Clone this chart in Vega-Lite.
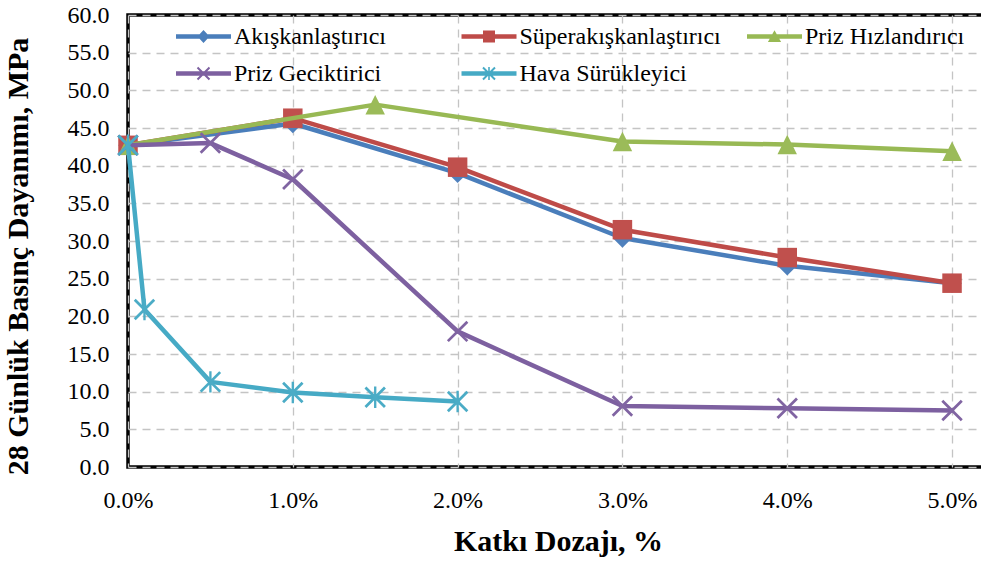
{
  "$schema": "https://vega.github.io/schema/vega-lite/v6.json",
  "width": 857,
  "height": 452,
  "autosize": {"type": "none"},
  "padding": {"left": 128, "top": 15, "right": 0, "bottom": 96},
  "background": "white",
  "config": {
    "view": {"stroke": "#000000", "strokeWidth": 3.5},
    "font": "Liberation Serif"
  },
  "data": {
    "values": [
      {"s": "Akışkanlaştırıcı", "x": 0, "y": 42.7},
      {"s": "Akışkanlaştırıcı", "x": 0.01, "y": 45.6},
      {"s": "Akışkanlaştırıcı", "x": 0.02, "y": 39.0},
      {"s": "Akışkanlaştırıcı", "x": 0.03, "y": 30.4},
      {"s": "Akışkanlaştırıcı", "x": 0.04, "y": 26.7},
      {"s": "Akışkanlaştırıcı", "x": 0.05, "y": 24.4},
      {"s": "Süperakışkanlaştırıcı", "x": 0, "y": 42.7},
      {"s": "Süperakışkanlaştırıcı", "x": 0.01, "y": 46.3},
      {"s": "Süperakışkanlaştırıcı", "x": 0.02, "y": 39.8},
      {"s": "Süperakışkanlaştırıcı", "x": 0.03, "y": 31.5},
      {"s": "Süperakışkanlaştırıcı", "x": 0.04, "y": 27.8},
      {"s": "Süperakışkanlaştırıcı", "x": 0.05, "y": 24.4},
      {"s": "Priz Hızlandırıcı", "x": 0, "y": 42.7},
      {"s": "Priz Hızlandırıcı", "x": 0.015, "y": 48.1},
      {"s": "Priz Hızlandırıcı", "x": 0.03, "y": 43.2},
      {"s": "Priz Hızlandırıcı", "x": 0.04, "y": 42.8},
      {"s": "Priz Hızlandırıcı", "x": 0.05, "y": 41.9},
      {"s": "Priz Geciktirici", "x": 0, "y": 42.7},
      {"s": "Priz Geciktirici", "x": 0.005, "y": 43.0},
      {"s": "Priz Geciktirici", "x": 0.01, "y": 38.2},
      {"s": "Priz Geciktirici", "x": 0.02, "y": 18.0},
      {"s": "Priz Geciktirici", "x": 0.03, "y": 8.1},
      {"s": "Priz Geciktirici", "x": 0.04, "y": 7.8},
      {"s": "Priz Geciktirici", "x": 0.05, "y": 7.5},
      {"s": "Hava Sürükleyici", "x": 0, "y": 42.7},
      {"s": "Hava Sürükleyici", "x": 0.001, "y": 20.9},
      {"s": "Hava Sürükleyici", "x": 0.005, "y": 11.3},
      {"s": "Hava Sürükleyici", "x": 0.01, "y": 9.9},
      {"s": "Hava Sürükleyici", "x": 0.015, "y": 9.25},
      {"s": "Hava Sürükleyici", "x": 0.02, "y": 8.7}
    ]
  },
  "encoding": {
    "x": {
      "field": "x",
      "type": "quantitative",
      "scale": {"domain": [0, 0.052], "nice": false, "zero": false},
      "axis": {
        "values": [0, 0.01, 0.02, 0.03, 0.04, 0.05],
        "format": ".1%",
        "grid": true,
        "gridColor": "#c4c4c4",
        "gridDash": [8, 6],
        "gridWidth": 1.3,
        "domain": false,
        "ticks": false,
        "tickSize": 0,
        "labelFlush": false,
        "labelOverlap": false,
        "labelFont": "Liberation Serif",
        "labelFontSize": 24,
        "labelColor": "#000000",
        "labelPadding": 21,
        "title": "Katkı Dozajı, %",
        "titleFont": "Liberation Serif",
        "titleFontSize": 30,
        "titleFontWeight": "bold",
        "titleColor": "#000000",
        "titleBaseline": "alphabetic",
        "titleAlign": "center",
        "titleX": 430,
        "titleY": 83
      }
    },
    "y": {
      "field": "y",
      "type": "quantitative",
      "scale": {"domain": [0, 60], "nice": false},
      "axis": {
        "values": [0, 5, 10, 15, 20, 25, 30, 35, 40, 45, 50, 55, 60],
        "format": ".1f",
        "grid": true,
        "gridColor": "#c4c4c4",
        "gridDash": [8, 6],
        "gridWidth": 1.3,
        "domain": false,
        "ticks": false,
        "tickSize": 0,
        "labelFlush": false,
        "labelOverlap": false,
        "labelFont": "Liberation Serif",
        "labelFontSize": 24,
        "labelColor": "#000000",
        "labelPadding": 19,
        "title": "28 Günlük Basınç Dayanımı, MPa",
        "titleFont": "Liberation Serif",
        "titleFontSize": 30,
        "titleFontWeight": "bold",
        "titleColor": "#000000",
        "titleAngle": 270,
        "titleBaseline": "alphabetic",
        "titleAlign": "center",
        "titleX": -101,
        "titleY": 241
      }
    }
  },
  "layer": [
    {
      "transform": [{"filter": "datum.s === 'Akışkanlaştırıcı'"}],
      "mark": {"type": "line", "color": "#4A7EBB", "strokeWidth": 4.5, "strokeJoin": "round", "strokeCap": "round"}
    },
    {
      "transform": [{"filter": "datum.s === 'Akışkanlaştırıcı'"}],
      "mark": {"type": "point", "filled": true, "opacity": 1, "color": "#4F81BD", "size": 380, "shape": "M0,-1L1,0L0,1L-1,0Z"}
    },
    {
      "transform": [{"filter": "datum.s === 'Süperakışkanlaştırıcı'"}],
      "mark": {"type": "line", "color": "#BE4B48", "strokeWidth": 4.5, "strokeJoin": "round", "strokeCap": "round"}
    },
    {
      "transform": [{"filter": "datum.s === 'Süperakışkanlaştırıcı'"}],
      "mark": {"type": "point", "filled": true, "opacity": 1, "color": "#C0504D", "size": 380, "shape": "M-1,-1H1V1H-1Z"}
    },
    {
      "transform": [{"filter": "datum.s === 'Priz Hızlandırıcı'"}],
      "mark": {"type": "line", "color": "#98B954", "strokeWidth": 4.5, "strokeJoin": "round", "strokeCap": "round"}
    },
    {
      "transform": [{"filter": "datum.s === 'Priz Hızlandırıcı'"}],
      "mark": {"type": "point", "filled": true, "opacity": 1, "color": "#9BBB59", "size": 380, "shape": "M0,-1L1,1H-1Z"}
    },
    {
      "transform": [{"filter": "datum.s === 'Priz Geciktirici'"}],
      "mark": {"type": "line", "color": "#7D60A0", "strokeWidth": 4.5, "strokeJoin": "round", "strokeCap": "round"}
    },
    {
      "transform": [{"filter": "datum.s === 'Priz Geciktirici'"}],
      "mark": {"type": "point", "filled": true, "opacity": 1, "color": "#8064A2", "size": 380, "shape": "M-0.9,-1.1L1.1,0.9L0.9,1.1L-1.1,-0.9Z M0.9,-1.1L1.1,-0.9L-0.9,1.1L-1.1,0.9Z"}
    },
    {
      "transform": [{"filter": "datum.s === 'Hava Sürükleyici'"}],
      "mark": {"type": "line", "color": "#46AAC5", "strokeWidth": 4.5, "strokeJoin": "round", "strokeCap": "round"}
    },
    {
      "transform": [{"filter": "datum.s === 'Hava Sürükleyici'"}],
      "mark": {"type": "point", "filled": true, "opacity": 1, "color": "#4BACC6", "size": 380, "shape": "M-0.9,-1.1L1.1,0.9L0.9,1.1L-1.1,-0.9Z M0.9,-1.1L1.1,-0.9L-0.9,1.1L-1.1,0.9Z M-0.12,-1.1H0.12V1.1H-0.12Z"}
    },
    {
      "transform": [{"filter": "datum.y < 0"}],
      "mark": {"type": "point", "filled": true, "opacity": 1},
      "encoding": {
        "color": {
          "field": "s",
          "type": "nominal",
          "scale": {
            "domain": ["Akışkanlaştırıcı", "Süperakışkanlaştırıcı", "Priz Hızlandırıcı", "Priz Geciktirici", "Hava Sürükleyici"],
            "range": ["#4A7EBB", "#BE4B48", "#98B954", "#7D60A0", "#46AAC5"]
          },
          "legend": {
            "orient": "none", "legendX": 63.5, "legendY": 9.5, "columns": 3, "direction": "horizontal",
            "title": null, "symbolSize": 400, "symbolStrokeWidth": 0, "symbolOpacity": 1,
            "labelFont": "Liberation Serif", "labelFontSize": 24, "labelColor": "#000000", "labelLimit": 400,
            "labelOffset": 18.5, "columnPadding": 25.5, "rowPadding": 13, "gridAlign": "all", "padding": 0
          }
        },
        "shape": {
          "field": "s",
          "type": "nominal",
          "scale": {
            "domain": ["Akışkanlaştırıcı", "Süperakışkanlaştırıcı", "Priz Hızlandırıcı", "Priz Geciktirici", "Hava Sürükleyici"],
            "range": [
              "M-2.75,-0.22H2.75V0.22H-2.75Z M0,-0.65L0.6,0L0,0.65L-0.6,0Z",
              "M-2.75,-0.22H2.75V0.22H-2.75Z M-0.6,-0.6H0.6V0.6H-0.6Z",
              "M-2.75,-0.22H2.75V0.22H-2.75Z M0,-0.62L0.66,0.55H-0.66Z",
              "M-2.75,-0.22H2.75V0.22H-2.75Z M-0.53,-0.67L0.67,0.53L0.53,0.67L-0.67,-0.53Z M0.53,-0.67L0.67,-0.53L-0.53,0.67L-0.67,0.53Z",
              "M-2.75,-0.22H2.75V0.22H-2.75Z M-0.53,-0.67L0.67,0.53L0.53,0.67L-0.67,-0.53Z M0.53,-0.67L0.67,-0.53L-0.53,0.67L-0.67,0.53Z M-0.08,-0.66H0.08V0.66H-0.08Z"
            ]
          },
          "legend": {
            "orient": "none", "legendX": 63.5, "legendY": 9.5, "columns": 3, "direction": "horizontal",
            "title": null, "symbolSize": 400, "symbolStrokeWidth": 0, "symbolOpacity": 1,
            "labelFont": "Liberation Serif", "labelFontSize": 24, "labelColor": "#000000", "labelLimit": 400,
            "labelOffset": 18.5, "columnPadding": 25.5, "rowPadding": 13, "gridAlign": "all", "padding": 0
          }
        }
      }
    }
  ]
}
